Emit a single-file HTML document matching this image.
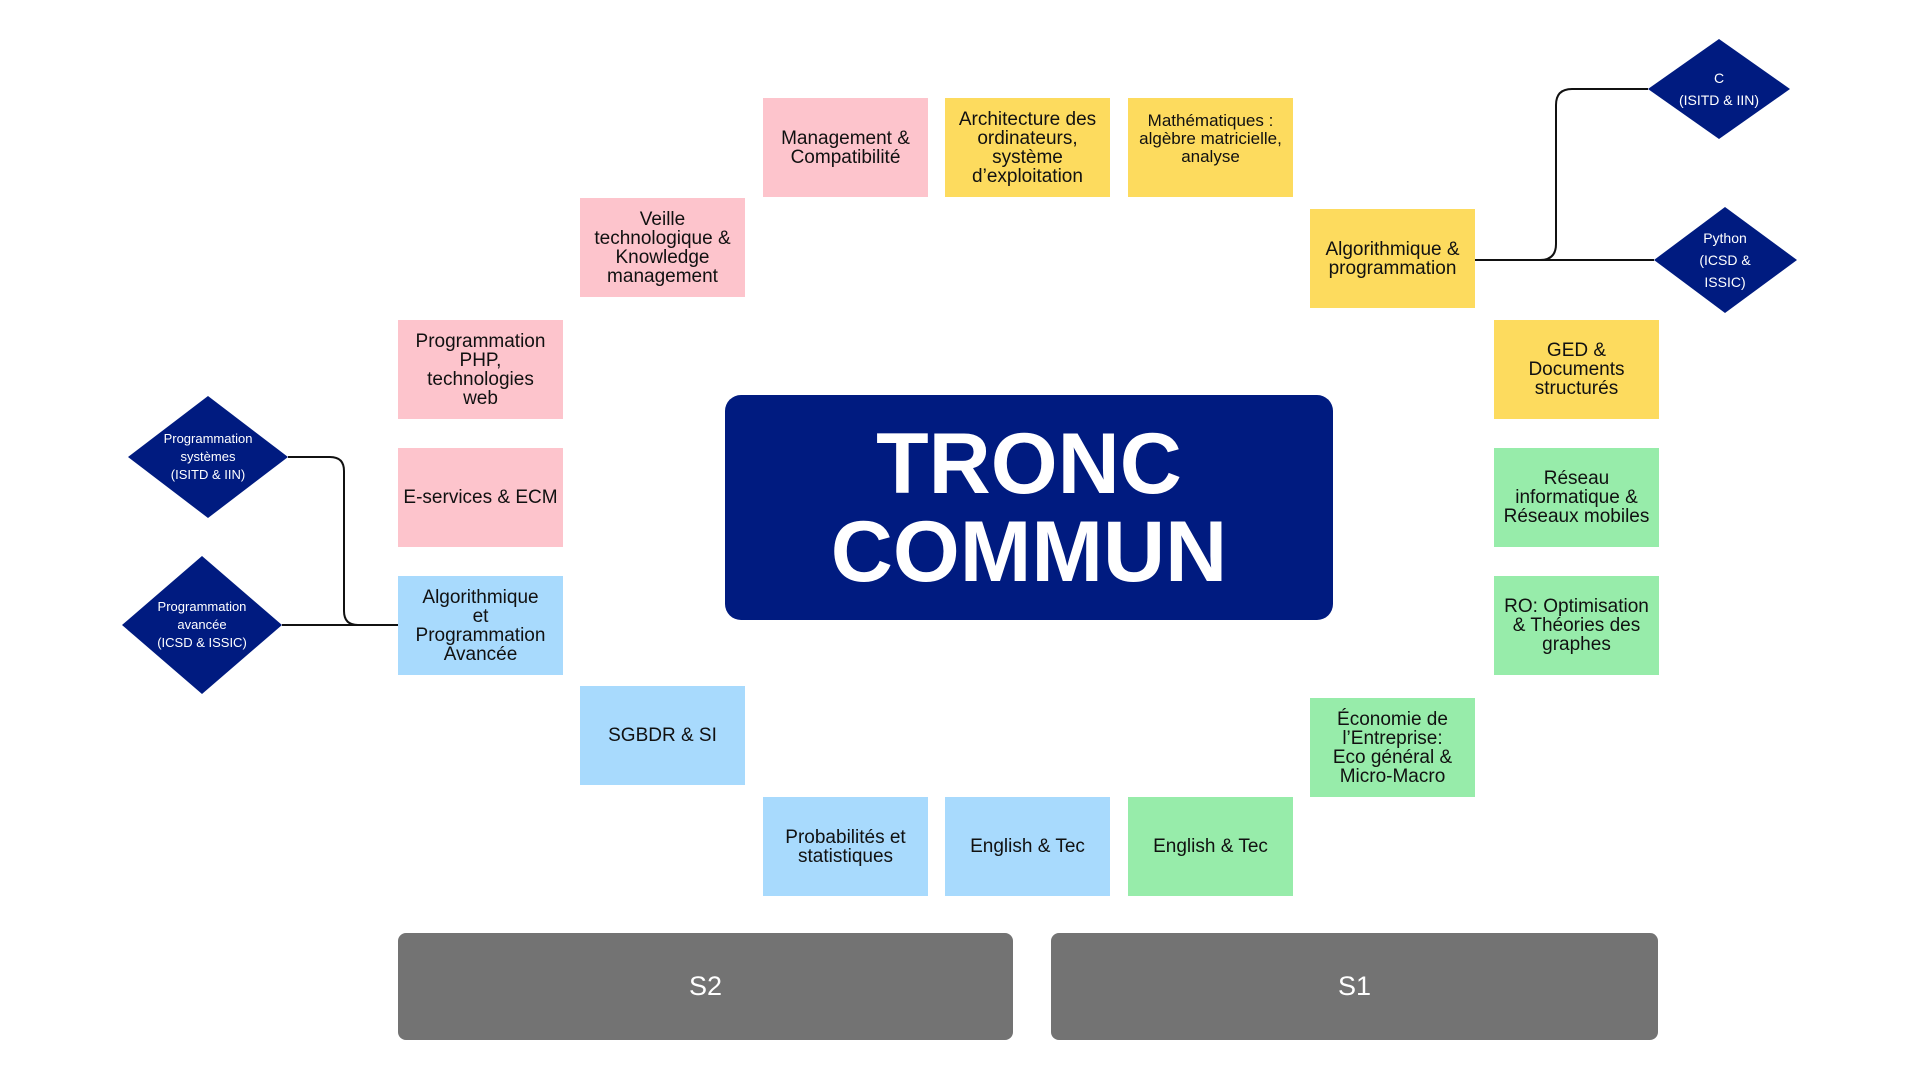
<!DOCTYPE html>
<html><head><meta charset="utf-8"><style>
body{margin:0;width:1920px;height:1080px;background:#fff;position:relative;overflow:hidden;font-family:"Liberation Sans",sans-serif}
.b{position:absolute;width:165px;height:99px;display:flex;align-items:center;justify-content:center;text-align:center;font-size:19px;line-height:19px;color:#111}
.p{background:#fdc4cc}.y{background:#fddb5e}.g{background:#97ecaa}.l{background:#a8dafd}
.c{position:absolute;left:725px;top:395px;width:608px;height:225px;background:#001b80;border-radius:16px;color:#fff;font-weight:bold;font-size:86px;line-height:88px;display:flex;align-items:center;justify-content:center;text-align:center}
.s{position:absolute;top:933px;height:107px;background:#737373;border-radius:8px;color:#fff;font-size:27px;display:flex;align-items:center;justify-content:center}
.d{position:absolute;color:#fff;font-size:13px;line-height:18px;text-align:center;display:flex;align-items:center;justify-content:center}
</style></head><body>
<svg width="1920" height="1080" style="position:absolute;left:0;top:0">
<g fill="none" stroke="#111" stroke-width="2">
<path d="M288 457 H330 Q344 457 344 471 V611 Q344 625 358 625 H398"/>
<path d="M282 625 H398"/>
<path d="M1475 260 H1654"/>
<path d="M1475 260 H1540 Q1556 260 1556 244 V105 Q1556 89 1572 89 H1648"/>
</g>
<g fill="#001b80">
<polygon points="208,396 288,457 208,518 128,457"/>
<polygon points="202,556 282,625 202,694 122,625"/>
<polygon points="1719,39 1790,89 1719,139 1648,89"/>
<polygon points="1725,207 1797,260 1725,313 1654,260"/>
</g>
</svg>
<div class="d" style="left:148px;top:420px;width:120px;height:74px">Programmation<br>systèmes<br>(ISITD &amp; IIN)</div>
<div class="d" style="left:142px;top:588px;width:120px;height:74px">Programmation<br>avancée<br>(ICSD &amp; ISSIC)</div>
<div class="d" style="left:1669px;top:66px;width:100px;height:46px;font-size:14px;line-height:22px">C<br>(ISITD &amp; IIN)</div>
<div class="d" style="left:1675px;top:225px;width:100px;height:70px;font-size:14px;line-height:22px">Python<br>(ICSD &amp;<br>ISSIC)</div>

<div class="b p" style="left:763px;top:98px">Management &amp;<br>Compatibilité</div>
<div class="b y" style="left:945px;top:98px">Architecture des<br>ordinateurs,<br>système<br>d’exploitation</div>
<div class="b y" style="left:1128px;top:98px;font-size:17px;line-height:18px;align-items:flex-start;padding-top:14px;box-sizing:border-box">Mathématiques :<br>algèbre matricielle,<br>analyse</div>
<div class="b p" style="left:580px;top:198px">Veille<br>technologique &amp;<br>Knowledge<br>management</div>
<div class="b y" style="left:1310px;top:209px">Algorithmique &amp;<br>programmation</div>
<div class="b p" style="left:398px;top:320px">Programmation<br>PHP,<br>technologies<br>web</div>
<div class="b y" style="left:1494px;top:320px">GED &amp;<br>Documents<br>structurés</div>
<div class="b p" style="left:398px;top:448px">E-services &amp; ECM</div>
<div class="b g" style="left:1494px;top:448px">Réseau<br>informatique &amp;<br>Réseaux mobiles</div>
<div class="b l" style="left:398px;top:576px">Algorithmique<br>et<br>Programmation<br>Avancée</div>
<div class="b g" style="left:1494px;top:576px">RO: Optimisation<br>&amp; Théories des<br>graphes</div>
<div class="b l" style="left:580px;top:686px">SGBDR &amp; SI</div>
<div class="b g" style="left:1310px;top:698px">Économie de<br>l’Entreprise:<br>Eco général &amp;<br>Micro-Macro</div>
<div class="b l" style="left:763px;top:797px">Probabilités et<br>statistiques</div>
<div class="b l" style="left:945px;top:797px">English &amp; Tec</div>
<div class="b g" style="left:1128px;top:797px">English &amp; Tec</div>

<div class="c">TRONC<br>COMMUN</div>
<div class="s" style="left:398px;width:615px">S2</div>
<div class="s" style="left:1051px;width:607px">S1</div>
</body></html>
